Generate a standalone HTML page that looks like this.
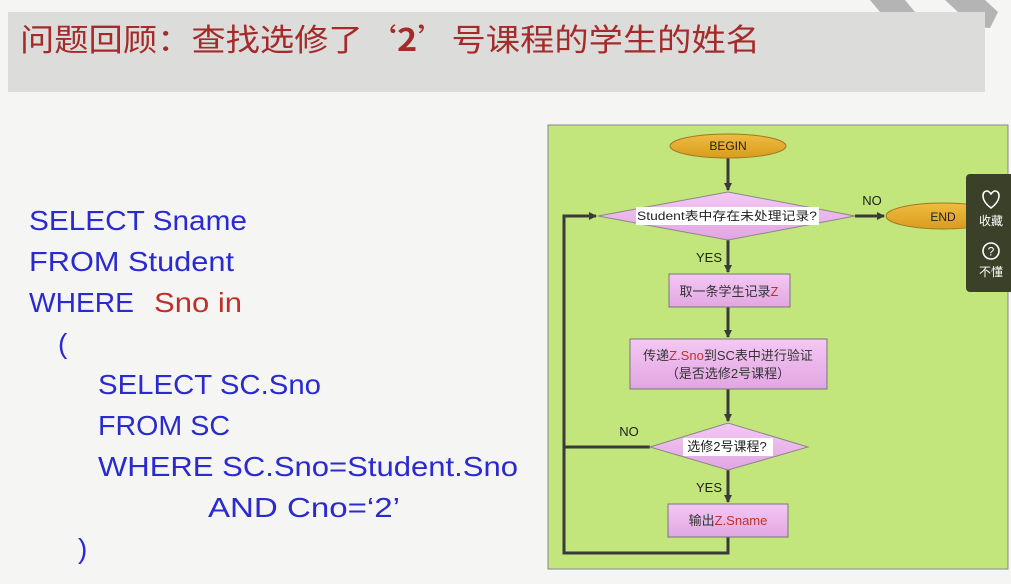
<!DOCTYPE html>
<html><head><meta charset="utf-8"><style>
html,body{margin:0;padding:0;background:#f5f5f3;width:1011px;height:584px;overflow:hidden}
svg{display:block}
</style></head><body>
<svg width="1011" height="584" xmlns="http://www.w3.org/2000/svg" font-family="Liberation Sans, Noto Sans CJK SC, sans-serif">
<rect width="1011" height="584" fill="#f5f5f3"/>
<polygon points="870,0 905,0 915,12 905,25 870,25 880,12" fill="#b4b4b4"/>
<polygon points="945,0 985,0 998,12 990,28 948,25 958,12" fill="#b4b4b4"/>
<rect x="8" y="12" width="977" height="80" fill="#dcdcda"/>
<text x="20" y="51" font-size="31" fill="#a52a2a" font-family="Noto Sans CJK SC, sans-serif" textLength="740" lengthAdjust="spacingAndGlyphs">问题回顾：查找选修了‘<tspan font-weight="bold">2</tspan>’号课程的学生的姓名</text>

<g font-size="28" fill="#2a2ad0">
<text x="29" y="230" textLength="218" lengthAdjust="spacingAndGlyphs">SELECT Sname</text>
<text x="29" y="271" textLength="205" lengthAdjust="spacingAndGlyphs">FROM Student</text>
<text x="29" y="312" textLength="105" lengthAdjust="spacingAndGlyphs">WHERE</text>
<text x="154" y="312" fill="#c0302a" textLength="88" lengthAdjust="spacingAndGlyphs">Sno in</text>
<text x="58" y="353">(</text>
<text x="98" y="394" textLength="223" lengthAdjust="spacingAndGlyphs">SELECT SC.Sno</text>
<text x="98" y="435" textLength="132" lengthAdjust="spacingAndGlyphs">FROM SC</text>
<text x="98" y="476" textLength="420" lengthAdjust="spacingAndGlyphs">WHERE SC.Sno=Student.Sno</text>
<text x="208" y="517" textLength="192" lengthAdjust="spacingAndGlyphs">AND Cno=‘2’</text>
<text x="78" y="558">)</text>
</g>

<rect x="548" y="125" width="460" height="444" fill="#c2e57c" stroke="#888" stroke-width="1"/>
<defs><marker id="a" markerWidth="8" markerHeight="8" refX="7" refY="4" orient="auto" markerUnits="userSpaceOnUse"><path d="M0,0 L8,4 L0,8z" fill="#3a3a3a"/></marker>
<linearGradient id="p" x1="0" y1="0" x2="0" y2="1"><stop offset="0" stop-color="#f4c8f4"/><stop offset="1" stop-color="#e2a6e2"/></linearGradient>
<linearGradient id="o" x1="0" y1="0" x2="0" y2="1"><stop offset="0" stop-color="#f0bc40"/><stop offset="1" stop-color="#d89c20"/></linearGradient></defs>
<g stroke="#3a3a3a" stroke-width="3" fill="none">
<line x1="728" y1="158" x2="728" y2="190" marker-end="url(#a)"/>
<line x1="855" y1="216" x2="884" y2="216" marker-end="url(#a)"/>
<line x1="728" y1="240" x2="728" y2="272" marker-end="url(#a)"/>
<line x1="728" y1="307" x2="728" y2="337" marker-end="url(#a)"/>
<line x1="728" y1="389" x2="728" y2="421" marker-end="url(#a)"/>
<line x1="728" y1="470" x2="728" y2="502" marker-end="url(#a)"/>
<polyline points="728,537 728,553 564,553 564,216 596,216" marker-end="url(#a)"/>
<line x1="650" y1="447" x2="564" y2="447"/>
</g>
<ellipse cx="728" cy="146" rx="58" ry="12" fill="url(#o)" stroke="#a07820"/>
<text x="728" y="150" font-size="12" text-anchor="middle" fill="#222">BEGIN</text>
<ellipse cx="943" cy="216" rx="57" ry="13" fill="url(#o)" stroke="#a07820"/>
<text x="943" y="221" font-size="12" text-anchor="middle" fill="#222">END</text>
<polygon points="598,216 728,192 855,216 728,240" fill="url(#p)" stroke="#888"/>
<rect x="636" y="207" width="183" height="18" fill="#fff"/>
<text x="727" y="220" font-size="12" text-anchor="middle" fill="#222" textLength="180" lengthAdjust="spacingAndGlyphs">Student表中存在未处理记录?</text>
<text x="872" y="205" font-size="13" text-anchor="middle" fill="#222">NO</text>
<text x="709" y="262" font-size="13" text-anchor="middle" fill="#222">YES</text>
<rect x="669" y="274" width="121" height="33" fill="url(#p)" stroke="#777"/>
<text x="729" y="296" font-size="13" text-anchor="middle" fill="#333">取一条学生记录<tspan fill="#c0302a">Z</tspan></text>
<rect x="630" y="339" width="197" height="50" fill="url(#p)" stroke="#777"/>
<text x="728" y="360" font-size="13" text-anchor="middle" fill="#333">传递<tspan fill="#c0302a">Z.Sno</tspan>到SC表中进行验证</text>
<text x="728" y="378" font-size="13" text-anchor="middle" fill="#333">（是否选修2号课程）</text>
<polygon points="650,447 728,423 808,447 728,470" fill="url(#p)" stroke="#888"/>
<rect x="683" y="438" width="90" height="18" fill="#fff"/>
<text x="727" y="451" font-size="13" text-anchor="middle" fill="#222">选修2号课程?</text>
<text x="629" y="436" font-size="13" text-anchor="middle" fill="#222">NO</text>
<text x="709" y="492" font-size="13" text-anchor="middle" fill="#222">YES</text>
<rect x="668" y="504" width="120" height="33" fill="url(#p)" stroke="#777"/>
<text x="728" y="525" font-size="13" text-anchor="middle" fill="#333">输出<tspan fill="#c0302a">Z.Sname</tspan></text>

<rect x="966" y="174" width="50" height="118" rx="4" fill="#3b4129"/>
<path d="M991,208 C980,200 982,191 987,191 C989,191 990,193 991,194 C992,193 993,191 995,191 C1000,191 1002,200 991,208z" fill="none" stroke="#fff" stroke-width="1.6"/>
<text x="991" y="225" font-size="12" text-anchor="middle" fill="#fff" font-family="Noto Sans CJK SC, sans-serif">收藏</text>
<circle cx="991" cy="251" r="8" fill="none" stroke="#fff" stroke-width="1.6"/>
<text x="991" y="255.5" font-size="12" text-anchor="middle" fill="#fff">?</text>
<text x="991" y="276" font-size="12" text-anchor="middle" fill="#fff" font-family="Noto Sans CJK SC, sans-serif">不懂</text>
</svg>
</body></html>
